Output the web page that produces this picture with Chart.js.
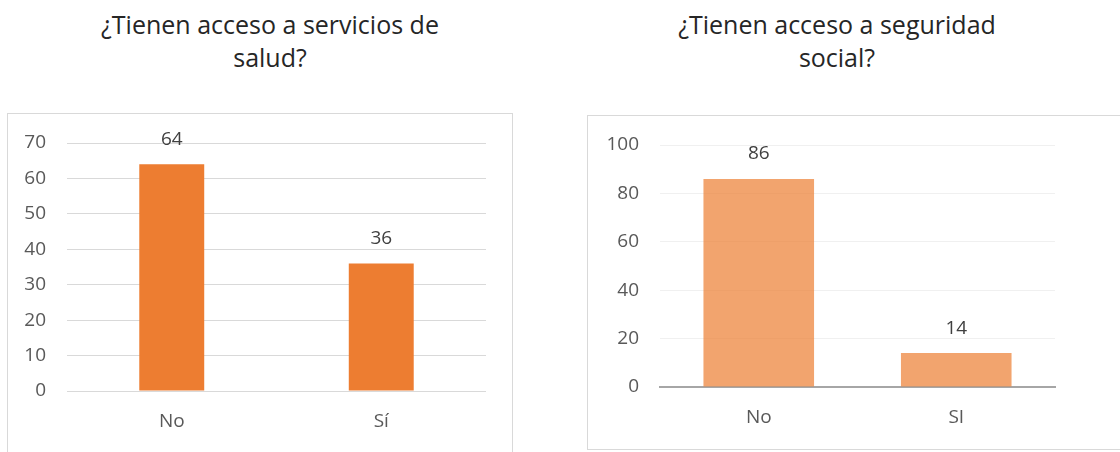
<!DOCTYPE html>
<html>
<head>
<meta charset="utf-8">
<script src="https://cdn.jsdelivr.net/npm/chart.js@4/dist/chart.umd.min.js"></script>
<style>
    html, body { margin: 0; padding: 0; background: #fff; }
    body { width: 1120px; height: 452px; position: relative; overflow: hidden; font-family: "Open Sans", sans-serif; }
    .title { position: absolute; text-align: center; color: #262626; font-size: 25px; line-height: 33px; white-space: nowrap; }
    .box { position: absolute; border: 1px solid #D9D9D9; box-sizing: border-box; background: #fff; }
    .box canvas { display: block; }
</style>
</head>
<body>
<div class="title" id="title-salud" style="left:70px; width:400px; top:8px;"></div>
<div class="title" id="title-seguridad" style="left:637px; width:400px; top:8px;"></div>

<div class="box" style="left:7px; top:113px; width:506px; height:350px;">
    <canvas id="chart-salud" width="504" height="348"></canvas>
</div>
<div class="box" style="left:587px; top:115px; width:545px; height:335px;">
    <canvas id="chart-seguridad" width="543" height="333"></canvas>
</div>

<script>
// --- Données ---
const saludTitle      = ['¿Tienen acceso a servicios de', 'salud?'];
const saludLabels     = ['No', 'Sí'];
const saludValues     = [64, 36];
const saludTicks      = { max: 70, step: 10 };

const seguridadTitle  = ['¿Tienen acceso a seguridad', 'social?'];
const seguridadLabels = ['No', 'SI'];
const seguridadValues = [86, 14];
const seguridadTicks  = { max: 100, step: 20 };

const textColor = '#595959';
const fontFamily = '"Open Sans", sans-serif';

document.getElementById('title-salud').innerHTML = saludTitle.join('<br>');
document.getElementById('title-seguridad').innerHTML = seguridadTitle.join('<br>');

// Étiquettes de valeur au-dessus des barres
const valueLabels = {
    id: 'valueLabels',
    afterDatasetsDraw(chart) {
        const ctx = chart.ctx;
        const meta = chart.getDatasetMeta(0);
        ctx.save();
        ctx.fillStyle = '#404040';
        ctx.font = '19px ' + fontFamily;
        ctx.textAlign = 'center';
        ctx.textBaseline = 'middle';
        meta.data.forEach((bar, i) => {
            ctx.fillText(chart.data.datasets[0].data[i], bar.x, bar.y - 25);
        });
        ctx.restore();
    }
};

function makeChart(el, labels, values, ticks, opts) {
    return new Chart(el, {
        type: 'bar',
        data: {
            labels,
            datasets: [{
                data: values,
                backgroundColor: opts.color,
                categoryPercentage: 1,
                barPercentage: opts.barPct
            }]
        },
        options: {
            responsive: false,
            animation: false,
            layout: { padding: { top: 29, right: opts.rightPad, bottom: 0, left: 0 } },
            plugins: { legend: { display: false }, tooltip: { enabled: false } },
            scales: {
                x: {
                    grid: { display: false, drawTicks: false },
                    border: opts.xBorder,
                    ticks: { color: textColor, padding: opts.xPad, font: { size: 19, family: fontFamily } },
                    afterFit: s => { s.height = opts.xHeight; }
                },
                y: {
                    min: 0,
                    max: ticks.max,
                    grid: { color: opts.gridColor, lineWidth: 1, drawTicks: false },
                    border: { display: false },
                    // lineHeight réduit : évite que l'étiquette du haut pousse la zone de tracé
                    ticks: { stepSize: ticks.step, color: textColor, padding: 21, font: { size: 19, family: fontFamily, lineHeight: 0.7 } },
                    afterFit: s => { s.width = opts.yWidth; }
                }
            }
        },
        plugins: [valueLabels]
    });
}

makeChart(document.getElementById('chart-salud'), saludLabels, saludValues, saludTicks, {
    color: '#ED7D31',
    barPct: 0.31,
    rightPad: 26,
    xHeight: 71,
    xPad: 19,
    yWidth: 59,
    gridColor: '#D9D9D9',
    xBorder: { display: false }
});

makeChart(document.getElementById('chart-seguridad'), seguridadLabels, seguridadValues, seguridadTicks, {
    color: 'rgba(237,125,49,0.7)',
    barPct: 0.56,
    rightPad: 76,
    xHeight: 62,
    xPad: 19,
    yWidth: 72,
    gridColor: '#F0F0F0',
    xBorder: { display: true, color: '#A6A6A6', width: 2 }
});
</script>
</body>
</html>
